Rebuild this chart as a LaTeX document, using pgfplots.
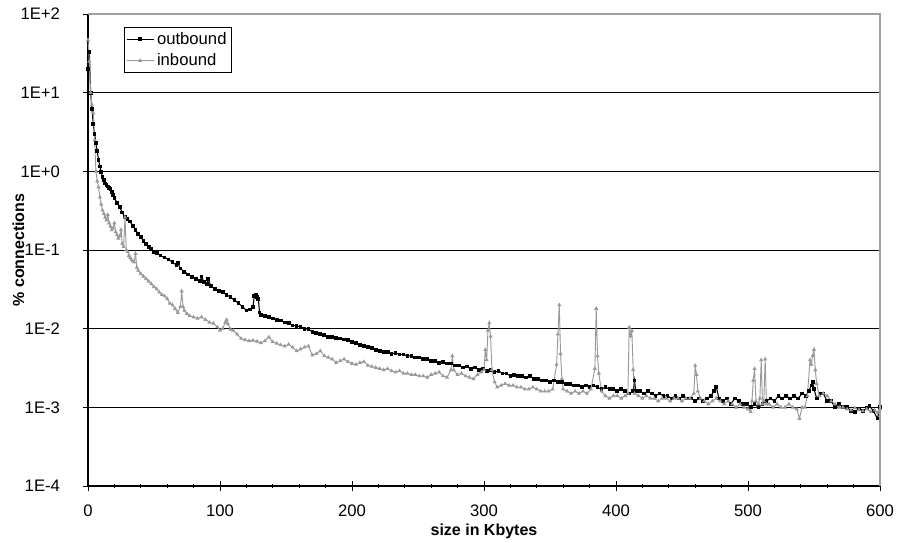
\documentclass[border=0pt]{standalone}
\usepackage{fontspec}
\setmainfont{Liberation Sans}
\usepackage{pgfplots}
\pgfplotsset{compat=1.18}
\definecolor{ingray}{HTML}{999999}
\definecolor{bordergray}{HTML}{A0A0A0}
\begin{document}
\begin{tikzpicture}
\begin{axis}[
  scale only axis,
  width=594pt, height=354pt,
  xmin=0, xmax=600,
  ymode=log, ymin=1e-4, ymax=1e2,
  axis lines*=left,
  axis line style={-, black, line width=0.8pt},
  xtick={0,100,...,600},
  minor x tick num=4,
  ytick={1e-4,1e-3,1e-2,1e-1,1e0,1e1,1e2},
  yticklabels={1E-4,1E-3,1E-2,1E-1,1E+0,1E+1,1E+2},
  yminorticks=false,
  tick align=center,
  major tick length=7pt,
  minor tick length=3pt,
  tick style={black, line width=0.6pt},
  ymajorgrids,
  grid style={black, line width=0.7pt},
  /pgf/number format/assume math mode=true,
  ticklabel style={font=\fontsize{12.5}{15}\selectfont},
  yticklabel style={anchor=east, xshift=-14pt},
  xticklabel style={yshift=-7pt},
  xlabel={\bfseries size in Kbytes},
  ylabel={\bfseries \% connections},
  label style={font=\fontsize{12}{14}\selectfont},
  xlabel style={at={(axis description cs:0.5,-0.0953)}, anchor=center},
  ylabel style={at={(axis description cs:-0.088,0.5)}, anchor=center},
  legend style={at={(0.045,0.972)}, anchor=north west, draw=black, line width=0.5pt,
     font=\fontsize{12.5}{15}\selectfont, inner sep=1.5pt, row sep=1.5pt},
  legend cell align=left,
  legend image code/.code={\draw[#1] (0cm,0cm) -- (0.72cm,0cm); \draw[#1,mark repeat=2,mark phase=2] plot coordinates {(0cm,0cm) (0.36cm,0cm) (0.72cm,0cm)};},
  clip=true,
]
\addplot[black, line width=0.8pt, mark=square*, mark size=1pt, mark options={solid}] table {
x y
0 20
1 33
2 10
3 6.2
4 4.0
5 3.0
6 2.3
7 1.8
8 1.4
9 1.15
10 0.98
11 0.85
12 0.78
13 0.70
14 0.67
15 0.64
16 0.61
17 0.59
18 0.55
19 0.50
20 0.46
22 0.40
24 0.35
26 0.30
28 0.26
30 0.25
32 0.23
34 0.20
36 0.18
38 0.16
40 0.145
42 0.13
44 0.12
46 0.11
48 0.102
50 0.095
52 0.091
55 0.085
58 0.080
61 0.076
64 0.070
67 0.064
68 0.068
70 0.058
73 0.053
76 0.049
79 0.045
82 0.043
85 0.040
86 0.046
88 0.039
90 0.037
91 0.043
93 0.035
96 0.032
99 0.030
102 0.029
105 0.027
108 0.025
111 0.023
114 0.021
117 0.019
120 0.017
123 0.0175
125 0.019
126 0.026
127 0.027
128 0.025
129 0.024
130 0.016
131 0.015
134 0.0145
137 0.0142
140 0.0135
143 0.013
146 0.0127
149 0.012
152 0.0117
155 0.011
158 0.0108
161 0.0106
164 0.0100
167 0.0098
170 0.0091
173 0.0089
176 0.0085
179 0.0083
182 0.0079
185 0.0078
188 0.0076
191 0.0075
194 0.0073
197 0.0072
200 0.0068
203 0.0066
206 0.0062
209 0.0060
212 0.0058
215 0.0057
218 0.0053
221 0.0052
224 0.0050
227 0.0050
230 0.0048
233 0.0049
236 0.0047
239 0.0047
242 0.0045
245 0.0045
248 0.0043
251 0.0043
254 0.0041
257 0.0041
260 0.0039
263 0.0039
266 0.0037
269 0.0038
272 0.0036
275 0.0036
278 0.0034
281 0.0034
284 0.0032
287 0.0033
290 0.0031
293 0.0032
296 0.0030
299 0.0031
302 0.0029
305 0.0030
308 0.0028
311 0.0029
314 0.0027
317 0.0027
320 0.0025
323 0.0026
326 0.0025
329 0.0025
332 0.0024
335 0.0025
338 0.0023
341 0.0023
344 0.0022
347 0.0022
350 0.0021
353 0.0022
356 0.0021
359 0.0021
362 0.0020
365 0.0020
368 0.0019
371 0.0019
374 0.0018
377 0.0019
380 0.0018
383 0.0019
386 0.0018
389 0.0017
392 0.0018
395 0.0017
398 0.0017
401 0.0016
404 0.0017
407 0.0016
410 0.0015
413 0.0016
414 0.0022
415 0.0016
418 0.0016
421 0.0015
424 0.0016
427 0.0015
430 0.0014
433 0.0015
436 0.0014
439 0.0014
442 0.0013
445 0.0014
448 0.0013
451 0.0014
454 0.0013
457 0.0013
460 0.0012
463 0.0013
466 0.0012
469 0.0013
472 0.0014
474 0.0016
476 0.0018
478 0.0013
481 0.0012
484 0.0013
487 0.0011
490 0.0013
493 0.0012
496 0.0011
499 0.0011
502 0.0010
505 0.0011
508 0.0010
511 0.0011
514 0.0012
517 0.0013
520 0.0012
523 0.0014
526 0.0013
529 0.0014
532 0.0013
535 0.0014
538 0.0013
541 0.0015
544 0.0014
546 0.0016
548 0.0019
549 0.0021
550 0.0017
552 0.0013
555 0.0015
557 0.0015
560 0.0012
563 0.0012
566 0.0010
569 0.0011
572 0.0010
575 0.0010
578 0.00090
581 0.00087
584 0.00095
587 0.00090
590 0.00098
592 0.00105
595 0.00090
598 0.00072
600 0.00100
};
\addlegendentry{outbound}
\addplot[ingray, line width=0.7pt, mark=triangle*, mark size=1.1pt, mark options={solid}] table {
x y
0 47
1 25
2 10
3 7
4 5.5
5 2.5
6 1.0
7 0.75
8 0.63
9 0.47
10 0.38
11 0.32
12 0.29
13 0.26
14 0.24
15 0.28
16 0.22
17 0.20
18 0.18
19 0.19
20 0.22
21 0.17
22 0.155
23 0.14
24 0.15
25 0.18
26 0.12
27 0.11
28 0.26
29 0.10
30 0.095
31 0.085
32 0.08
33 0.075
34 0.072
35 0.07
36 0.09
37 0.06
38 0.055
40 0.050
42 0.046
44 0.043
46 0.040
48 0.037
50 0.034
52 0.032
54 0.029
56 0.027
58 0.026
60 0.024
62 0.021
64 0.020
66 0.018
68 0.016
70 0.019
71 0.030
72 0.019
73 0.017
75 0.0155
77 0.0145
80 0.014
83 0.0135
86 0.0140
89 0.013
92 0.012
95 0.0117
98 0.0105
100 0.0095
102 0.0100
104 0.012
105 0.013
106 0.0115
108 0.0098
110 0.0095
113 0.0085
116 0.0075
119 0.0072
122 0.0070
125 0.0071
128 0.0069
131 0.0066
134 0.0070
137 0.0078
140 0.0068
143 0.0065
146 0.0062
149 0.0060
152 0.0063
155 0.0058
158 0.0052
161 0.0055
164 0.0058
167 0.0060
170 0.0046
173 0.0048
176 0.0052
179 0.0045
182 0.0043
185 0.0041
188 0.0037
191 0.0039
194 0.0041
197 0.0038
200 0.0036
203 0.0035
206 0.0037
209 0.0038
212 0.0034
215 0.0033
218 0.0032
221 0.0031
224 0.0030
227 0.0031
230 0.0029
233 0.0028
236 0.0029
239 0.0027
242 0.0027
245 0.0026
248 0.0026
251 0.0025
254 0.0025
257 0.0024
260 0.0026
263 0.0027
266 0.0028
269 0.0025
272 0.0024
275 0.0030
276 0.0045
277 0.0030
280 0.0026
283 0.0027
286 0.0025
289 0.0024
292 0.0023
295 0.0026
298 0.0028
300 0.0030
301 0.0054
302 0.0040
303 0.0095
304 0.0118
305 0.0080
306 0.0030
308 0.0021
310 0.0018
313 0.0019
316 0.0020
319 0.0019
322 0.0019
325 0.0018
328 0.0018
331 0.0017
334 0.0017
337 0.0018
340 0.0017
343 0.0016
346 0.0016
349 0.0016
352 0.0017
355 0.0035
356 0.0085
357 0.020
358 0.0048
359 0.0023
360 0.0017
363 0.0016
366 0.0015
369 0.0016
372 0.0015
375 0.0016
378 0.0015
381 0.0017
384 0.0031
385 0.0180
386 0.0045
387 0.0027
389 0.0016
392 0.0014
395 0.0013
398 0.0014
401 0.0014
404 0.0013
407 0.0014
409 0.0015
410 0.0104
411 0.0080
412 0.0094
413 0.0030
414 0.0015
417 0.0014
420 0.0013
423 0.0014
426 0.0013
429 0.0013
432 0.0012
435 0.0013
438 0.0013
441 0.0012
444 0.0013
447 0.0013
450 0.0012
453 0.0013
456 0.0013
459 0.0015
460 0.0034
461 0.0026
462 0.0016
464 0.0013
467 0.0012
470 0.0011
473 0.0012
476 0.0013
479 0.0012
482 0.0011
485 0.0012
488 0.0011
491 0.0010
494 0.0011
497 0.0010
500 0.00095
502 0.00088
503 0.0012
504 0.0022
505 0.0031
506 0.0012
508 0.0011
509 0.0013
510 0.0040
511 0.0011
512 0.0012
513 0.0041
514 0.0011
516 0.0011
519 0.0010
522 0.0011
525 0.0010
528 0.0010
531 0.0011
534 0.0010
537 0.00095
539 0.00072
541 0.0010
543 0.0010
545 0.0014
547 0.0040
548 0.0035
549 0.0045
550 0.0054
551 0.0030
552 0.0020
554 0.0014
557 0.0015
560 0.0014
563 0.0012
566 0.0011
569 0.0010
572 0.0010
575 0.00095
578 0.00092
581 0.00098
584 0.00093
587 0.00090
590 0.00095
593 0.00088
596 0.00092
598 0.00085
600 0.00095
};
\addlegendentry{inbound}
\end{axis}
\draw[bordergray, line width=0.8pt] (current axis.north west) -- (current axis.north east) -- (current axis.south east);
\path (current axis.south west) ++(-66pt,-41.25pt);
\path (current axis.north east) ++(21pt,10.5pt);
\end{tikzpicture}
\end{document}
